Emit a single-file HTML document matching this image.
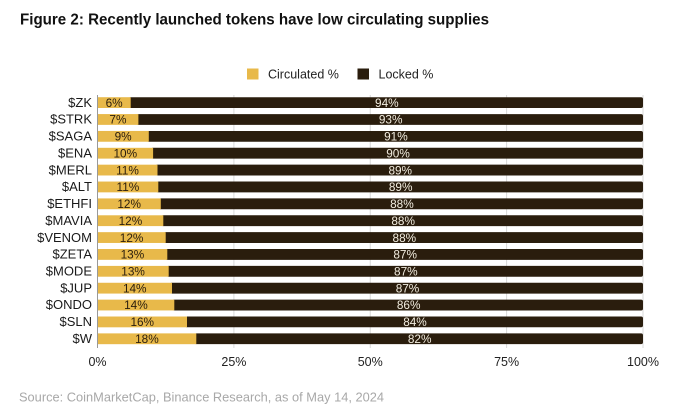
<!DOCTYPE html>
<html><head><meta charset="utf-8"><style>
html,body{margin:0;padding:0;background:#fff;}
svg{display:block;}
text{font-family:"Liberation Sans",Arial,sans-serif;}
</style></head><body>
<svg width="680" height="419" viewBox="0 0 680 419" xmlns="http://www.w3.org/2000/svg">
<rect width="680" height="419" fill="#fff"/>
<text x="20" y="24.5" font-size="16" font-weight="bold" fill="#111" textLength="469" lengthAdjust="spacingAndGlyphs">Figure 2: Recently launched tokens have low circulating supplies</text>

<!-- legend -->
<rect x="247" y="68.5" width="11.5" height="11" fill="#e8b94a"/>
<text x="268" y="78.3" font-size="12.5" fill="#222">Circulated %</text>
<rect x="357.5" y="68.5" width="11.5" height="11" fill="#2a1d0d"/>
<text x="378.5" y="78.3" font-size="12.5" fill="#222">Locked %</text>

<!-- grid -->
<g stroke="#d8d8d8" stroke-width="1">
<line x1="233.9" y1="95" x2="233.9" y2="348"/>
<line x1="370.25" y1="95" x2="370.25" y2="348"/>
<line x1="506.6" y1="95" x2="506.6" y2="348"/>
<line x1="643" y1="95" x2="643" y2="348"/>
</g>

<!-- dark bars -->
<g fill="#2a1d0d">
<rect x="128.7" y="97.2" width="514.3" height="10.8" rx="2"/>
<rect x="136.4" y="114.07" width="506.6" height="10.8" rx="2"/>
<rect x="146.8" y="130.94" width="496.2" height="10.8" rx="2"/>
<rect x="151.1" y="147.81" width="491.9" height="10.8" rx="2"/>
<rect x="155.5" y="164.68" width="487.5" height="10.8" rx="2"/>
<rect x="156.3" y="181.55" width="486.7" height="10.8" rx="2"/>
<rect x="158.8" y="198.42" width="484.2" height="10.8" rx="2"/>
<rect x="161.3" y="215.29" width="481.7" height="10.8" rx="2"/>
<rect x="163.7" y="232.16" width="479.3" height="10.8" rx="2"/>
<rect x="165.3" y="249.03" width="477.7" height="10.8" rx="2"/>
<rect x="166.7" y="265.9" width="476.3" height="10.8" rx="2"/>
<rect x="170" y="282.77" width="473" height="10.8" rx="2"/>
<rect x="172.3" y="299.64" width="470.7" height="10.8" rx="2"/>
<rect x="185" y="316.51" width="458" height="10.8" rx="2"/>
<rect x="194.3" y="333.38" width="448.7" height="10.8" rx="2"/>
</g>
<!-- yellow bars -->
<g fill="#e8b94a">
<rect x="97.5" y="97.2" width="33.2" height="10.8"/>
<rect x="97.5" y="114.07" width="40.9" height="10.8"/>
<rect x="97.5" y="130.94" width="51.3" height="10.8"/>
<rect x="97.5" y="147.81" width="55.6" height="10.8"/>
<rect x="97.5" y="164.68" width="60" height="10.8"/>
<rect x="97.5" y="181.55" width="60.8" height="10.8"/>
<rect x="97.5" y="198.42" width="63.3" height="10.8"/>
<rect x="97.5" y="215.29" width="65.8" height="10.8"/>
<rect x="97.5" y="232.16" width="68.2" height="10.8"/>
<rect x="97.5" y="249.03" width="69.8" height="10.8"/>
<rect x="97.5" y="265.9" width="71.2" height="10.8"/>
<rect x="97.5" y="282.77" width="74.5" height="10.8"/>
<rect x="97.5" y="299.64" width="76.8" height="10.8"/>
<rect x="97.5" y="316.51" width="89.5" height="10.8"/>
<rect x="97.5" y="333.38" width="98.8" height="10.8"/>
</g>

<!-- axis line -->
<line x1="97.5" y1="95" x2="97.5" y2="348" stroke="#999" stroke-width="1"/>

<!-- y labels -->
<g font-size="13" fill="#1a1a1a" text-anchor="end">
<text x="92" y="106.8">$ZK</text>
<text x="92" y="123.67">$STRK</text>
<text x="92" y="140.54">$SAGA</text>
<text x="92" y="157.41">$ENA</text>
<text x="92" y="174.28">$MERL</text>
<text x="92" y="191.15">$ALT</text>
<text x="92" y="208.02">$ETHFI</text>
<text x="92" y="224.89">$MAVIA</text>
<text x="92" y="241.76">$VENOM</text>
<text x="92" y="258.63">$ZETA</text>
<text x="92" y="275.5">$MODE</text>
<text x="92" y="292.37">$JUP</text>
<text x="92" y="309.24">$ONDO</text>
<text x="92" y="326.11">$SLN</text>
<text x="92" y="342.98">$W</text>
</g>

<!-- circulated labels -->
<g font-size="11.8" fill="#2a1d0d" text-anchor="middle">
<text x="114.1" y="106.8">6%</text>
<text x="117.95" y="123.67">7%</text>
<text x="123.15" y="140.54">9%</text>
<text x="125.3" y="157.41">10%</text>
<text x="127.5" y="174.28">11%</text>
<text x="127.9" y="191.15">11%</text>
<text x="129.15" y="208.02">12%</text>
<text x="130.4" y="224.89">12%</text>
<text x="131.6" y="241.76">12%</text>
<text x="132.4" y="258.63">13%</text>
<text x="133.1" y="275.5">13%</text>
<text x="134.75" y="292.37">14%</text>
<text x="135.9" y="309.24">14%</text>
<text x="142.25" y="326.11">16%</text>
<text x="146.9" y="342.98">18%</text>
</g>

<!-- locked labels -->
<g font-size="11.8" fill="#f2ede0" text-anchor="middle">
<text x="386.85" y="106.8">94%</text>
<text x="390.7" y="123.67">93%</text>
<text x="395.9" y="140.54">91%</text>
<text x="398.05" y="157.41">90%</text>
<text x="400.25" y="174.28">89%</text>
<text x="400.65" y="191.15">89%</text>
<text x="401.9" y="208.02">88%</text>
<text x="403.15" y="224.89">88%</text>
<text x="404.35" y="241.76">88%</text>
<text x="405.15" y="258.63">87%</text>
<text x="405.85" y="275.5">87%</text>
<text x="407.5" y="292.37">87%</text>
<text x="408.65" y="309.24">86%</text>
<text x="415" y="326.11">84%</text>
<text x="419.65" y="342.98">82%</text>
</g>

<!-- x ticks -->
<g font-size="12.5" fill="#222" text-anchor="middle">
<text x="97.5" y="366">0%</text>
<text x="233.9" y="366">25%</text>
<text x="370.25" y="366">50%</text>
<text x="506.6" y="366">75%</text>
<text x="643" y="366">100%</text>
</g>

<text x="19" y="401.7" font-size="13" fill="#a8a8a8" textLength="365" lengthAdjust="spacingAndGlyphs">Source: CoinMarketCap, Binance Research, as of May 14, 2024</text>
</svg>
</body></html>
